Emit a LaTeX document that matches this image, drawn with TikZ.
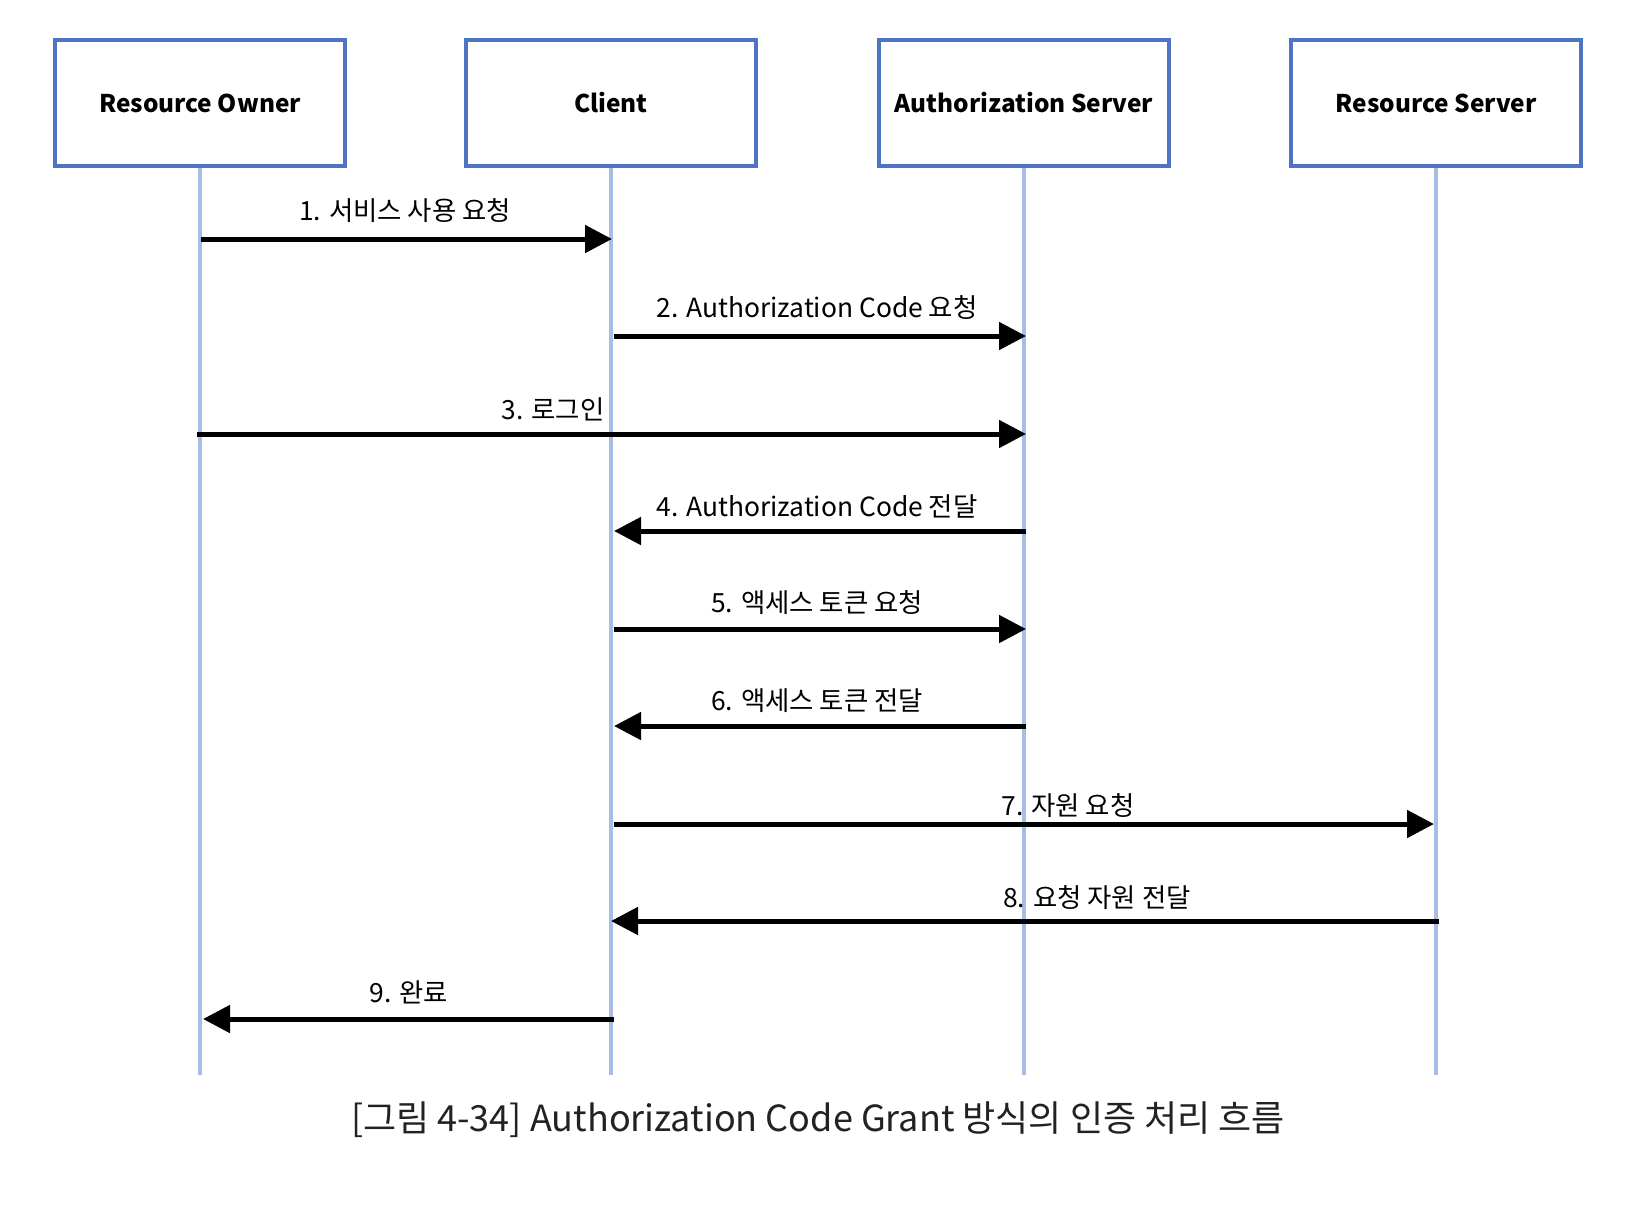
\documentclass[tikz,border=0pt]{standalone}
\usepackage{fontspec}
\setmainfont{Noto Sans CJK KR}
\usetikzlibrary{arrows.meta,calc}
\definecolor{boxblue}{HTML}{4F74C4}
\definecolor{lifeblue}{HTML}{A8BCE4}
\definecolor{captxt}{HTML}{222222}
\begin{document}
\begin{tikzpicture}[x=0.5pt,y=-0.5pt,
  actor/.style={draw=boxblue, line width=2pt, minimum width=145pt, minimum height=63pt,
    font=\bfseries\fontsize{12.2}{15}\selectfont, inner sep=0pt},
  life/.style={draw=lifeblue, line width=2pt},
  msg/.style={line width=2.5pt, -{Triangle[length=13.5pt,width=13.5pt]}},
  lbl/.style={font=\fontsize{13.2}{15}\selectfont, anchor=base, inner sep=0pt},
  captionstyle/.style={font=\fontsize{18}{21}\selectfont, text=captxt, anchor=base, inner sep=0pt}]
\path[use as bounding box, fill=white] (0,0) rectangle (1636,1206);
% actors
\node[actor] (RO) at (200,103) {Resource Owner};
\node[actor] (CL) at (611,103) {Client};
\node[actor] (AS) at (1024,103) {Authorization Server};
\node[actor] (RS) at (1436,103) {Resource Server};
% lifelines
\coordinate (ROe) at (200,1075);
\coordinate (CLe) at (611,1075);
\coordinate (ASe) at (1024,1075);
\coordinate (RSe) at (1436,1075);
\draw[life] (RO.south) -- (ROe);
\draw[life] (CL.south) -- (CLe);
\draw[life] (AS.south) -- (ASe);
\draw[life] (RS.south) -- (RSe);
% message rows
\coordinate (m1) at (0,239);
\coordinate (m2) at (0,336);
\coordinate (m3) at (0,434);
\coordinate (m4) at (0,531);
\coordinate (m5) at (0,629);
\coordinate (m6) at (0,726);
\coordinate (m7) at (0,824);
\coordinate (m8) at (0,921);
\coordinate (m9) at (0,1019);
% messages
\draw[msg] ([xshift=0.5pt]RO.center |- m1) -- ([xshift=0.5pt]CL.center |- m1);
\draw[msg] ([xshift=1.5pt]CL.center |- m2) -- ([xshift=1pt]AS.center |- m2);
\draw[msg] ([xshift=-1.5pt]RO.center |- m3) -- ([xshift=1pt]AS.center |- m3);
\draw[msg] ([xshift=1pt]AS.center |- m4) -- ([xshift=1.5pt]CL.center |- m4);
\draw[msg] ([xshift=1.5pt]CL.center |- m5) -- ([xshift=1pt]AS.center |- m5);
\draw[msg] ([xshift=1pt]AS.center |- m6) -- ([xshift=1.5pt]CL.center |- m6);
\draw[msg] ([xshift=1.5pt]CL.center |- m7) -- ([xshift=-1pt]RS.center |- m7);
\draw[msg] ([xshift=1.5pt]RS.center |- m8) -- (CL.center |- m8);
\draw[msg] ([xshift=1.5pt]CL.center |- m9) -- ([xshift=1.5pt]RO.center |- m9);
% labels
\node[lbl] (l1) at (405,220) {1. 서비스 사용 요청};
\node[lbl] (l2) at (817,317) {2. Authorization Code 요청};
\node[lbl] (l3) at (553,419) {3. 로그인};
\node[lbl] (l4) at (817,516) {4. Authorization Code 전달};
\node[lbl] (l5) at (817,612) {5. 액세스 토큰 요청};
\node[lbl] (l6) at (817,710) {6. 액세스 토큰 전달};
\node[lbl] (l7) at (1068,815) {7. 자원 요청};
\node[lbl] (l8) at (1097,907) {8. 요청 자원 전달};
\node[lbl] (l9) at (409,1002) {9. 완료};
% caption
\node[captionstyle] (caption) at (818,1131) {[그림 4-34] Authorization Code Grant 방식의 인증 처리 흐름};
\end{tikzpicture}
\end{document}
